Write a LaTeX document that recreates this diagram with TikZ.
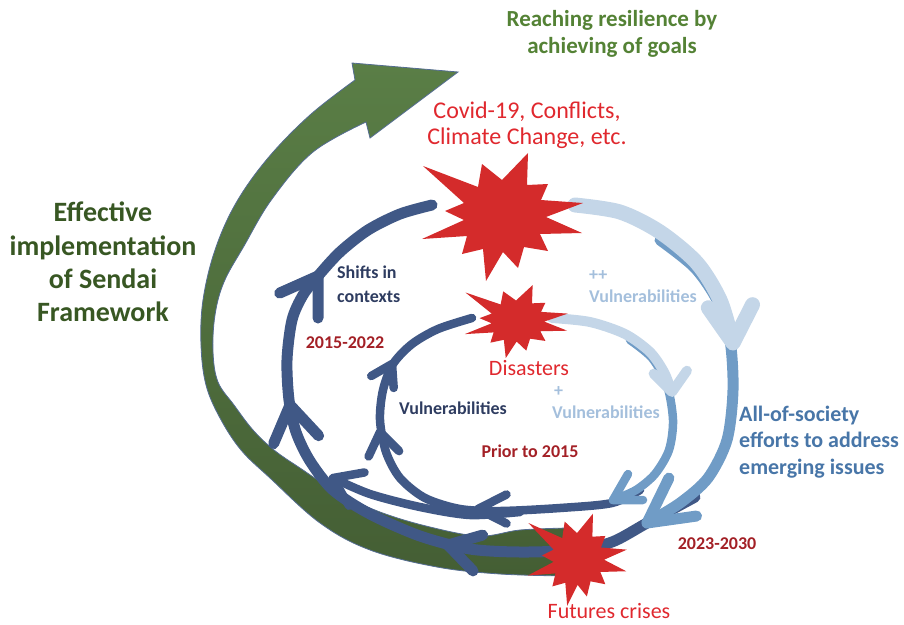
\documentclass[tikz,border=0pt]{standalone}
\usepackage{fontspec}
\setmainfont{Carlito}
\usetikzlibrary{calc}
\definecolor{greenTop}{RGB}{90,126,70}
\definecolor{greenBot}{RGB}{68,94,52}
\definecolor{greenEdge}{RGB}{84,108,146}
\definecolor{darkBlue}{RGB}{64,88,134}
\definecolor{midBlue}{RGB}{112,156,198}
\definecolor{lightBlue}{RGB}{196,214,232}
\definecolor{burstRed}{RGB}{212,43,43}
\definecolor{txtRed}{RGB}{224,40,46}
\definecolor{yearRed}{RGB}{163,32,38}
\definecolor{navyTxt}{RGB}{46,60,96}
\definecolor{ltTxt}{RGB}{164,191,220}
\definecolor{steelTxt}{RGB}{72,118,168}
\definecolor{resGreen}{RGB}{84,130,53}
\definecolor{sendaiGreen}{RGB}{56,87,35}
% style, tip, direction, half angle, length
\newcommand{\mychev}[5]{\draw[#1] (#2) ++(#3+180-#4:#5) -- (#2) -- ++(#3+180+#4:#5);}
\newcommand{\myburst}[4]{\fill[burstRed, shift={(#1)}, xscale=#2, yscale=#3] (-79,-50) -- (-24,-29) -- (-20,-52) -- (0,-36) -- (26,-63) -- (25,-31) -- (46,-32) -- (39,-16) -- (81,-13) -- (44,1) -- (80,17) -- (38,18) -- (46,35) -- (22,31) -- (16,52) -- (1,36) -- (-16,65) -- (-19,33) -- (-40,38) -- (-35,20) -- (-80,23) -- (-38,4) -- (-57,-5) -- (-38,-13) -- cycle; \coordinate (#4) at (#1);}
\begin{document}
\begin{tikzpicture}[x=1pt,y=-1pt,
  greenband/.style={top color=greenTop, bottom color=greenBot, draw=greenEdge, line width=0.8},
  darkOut/.style={draw=darkBlue, line width=11, line cap=round, line join=round},
  darkIn/.style={draw=darkBlue, line width=8.5, line cap=round, line join=round},
  midOut/.style={draw=midBlue, line width=11, line cap=round, line join=round},
  midIn/.style={draw=midBlue, line width=8.5, line cap=round, line join=round},
  lightOut/.style={draw=lightBlue, line width=15, line cap=round, line join=round},
  lightIn/.style={draw=lightBlue, line width=10, line cap=round, line join=round},
  lbl/.style={inner sep=0pt}]
\useasboundingbox (0,0) rectangle (904,624);
% green arrow
\path[greenband] plot[smooth, tension=0.6] coordinates {(355,80) (310,115) (268,158) (236,203) (215,250) (203,300) (201,345) (206,385) (220,418) (241,450) (270,478) (320,523) (370,550) (437,567) (500,574) (568,576)}
 -- plot[smooth, tension=0.6] coordinates {(568,528) (520,530) (480,536) (430,527) (380,512) (337,492) (300,468) (274,450) (253,430) (234,405) (218,382) (213,352) (215,315) (224,282) (244,246) (272,199) (313,152) (366,122)}
 -- (370,138) -- (458,72) -- (352,63) -- cycle;
% dark blue outer loop
\draw[darkOut] plot[smooth] coordinates {(695,497) (647,523) (612,542) (575,550) (520,552) (470,549) (420,536) (370,514) (333,490) (310,461) (296,432) (289,400) (287,360) (292,320) (303,295) (318,276) (340,252) (368,230) (400,214) (432,205)};
\mychev{darkOut}{318,276}{-57}{33}{42}
\mychev{darkOut}{290,405}{-100}{33}{42}
\mychev{darkOut}{448,545}{-165}{31}{36}
% dark blue inner loop
\draw[darkIn] plot[smooth] coordinates {(640,490) (612,503) (560,508) (500,511) (460,509) (425,498) (400,478) (386,452) (380,420) (383,390) (393,364) (412,344) (438,329) (472,318)};
\mychev{darkIn}{478,509}{180}{27}{32}
\mychev{darkIn}{380,432}{-100}{35}{27}
\mychev{darkIn}{392,364}{-62}{32}{24}
% middle strand
\draw[darkIn] plot[smooth] coordinates {(520,512) (470,515) (420,507) (370,494) (333,478)};
\mychev{darkIn}{333,478}{-155}{35}{32}
% mid blue
\draw[midOut] plot[smooth] coordinates {(660,240) (695,268) (718,302) (730,340) (733,390) (727,440) (708,478) (680,503) (647,523)};
\mychev{midOut}{647,523}{144}{28}{50}
\draw[midIn] plot[smooth] coordinates {(630,340) (652,358) (667,385) (673,420) (669,450) (655,474) (636,490) (613,500)};
\mychev{midIn}{613,500}{150}{30}{30}
% light blue
\draw[lightOut] plot[smooth] coordinates {(575,205) (620,212) (660,232) (697,263) (720,300) (732,340)};
\mychev{lightOut}{733,343}{86}{31}{43}
\draw[lightIn] plot[smooth] coordinates {(552,318) (590,322) (625,334) (650,352) (664,372) (671,390)};
\mychev{lightIn}{672,392}{85}{40}{26}
% bursts
\myburst{502,216}{1}{1}{bcovid}
\myburst{516,321}{0.64}{0.57}{bdis}
\myburst{577,559}{0.615}{0.72}{bfut}
% texts
\node[lbl, font=\fontsize{23}{27}\selectfont\bfseries, text=resGreen, align=center] (reach) at (612,34) {Reaching resilience by\\achieving of goals};
\node[lbl, font=\fontsize{24}{26}\selectfont, text=txtRed, align=center] (covidtxt) at (527,125) {Covid-19, Conflicts,\\Climate Change, etc.};
\node[lbl, font=\fontsize{28}{33.3}\selectfont\bfseries, text=sendaiGreen, align=center] (sendai) at (103,262) {Effective\\implementation\\of Sendai\\Framework};
\node[lbl, font=\fontsize{18}{24}\selectfont\bfseries, text=navyTxt, align=left, anchor=west] (shifts) at (337,284) {Shifts in\\contexts};
\node[lbl, font=\fontsize{18}{22}\selectfont\bfseries, text=yearRed] (y1) at (345,343) {2015-2022};
\node[lbl, font=\fontsize{18}{22}\selectfont\bfseries, text=ltTxt, align=left, anchor=west] (vuln2) at (589,287) {++\\Vulnerabilities};
\node[lbl, font=\fontsize{22}{26}\selectfont, text=txtRed] (dis) at (529,368) {Disasters};
\node[lbl, font=\fontsize{18}{22}\selectfont\bfseries, text=ltTxt, align=left, anchor=west] (vuln1) at (552,403) {\hspace{2pt}+\\Vulnerabilities};
\node[lbl, font=\fontsize{18}{22}\selectfont\bfseries, text=navyTxt] (vuln0) at (453,408) {Vulnerabilities};
\node[lbl, font=\fontsize{18}{22}\selectfont\bfseries, text=yearRed] (prior) at (530,451) {Prior to 2015};
\node[lbl, font=\fontsize{22}{26.5}\selectfont\bfseries, text=steelTxt, align=left, anchor=west] (allsoc) at (739,442) {All-of-society\\efforts to address\\emerging issues};
\node[lbl, font=\fontsize{18}{22}\selectfont\bfseries, text=yearRed] (y2) at (717,544) {2023-2030};
\node[lbl, font=\fontsize{22}{26}\selectfont, text=txtRed] (fut) at (609,611) {Futures crises};
\end{tikzpicture}
\end{document}
